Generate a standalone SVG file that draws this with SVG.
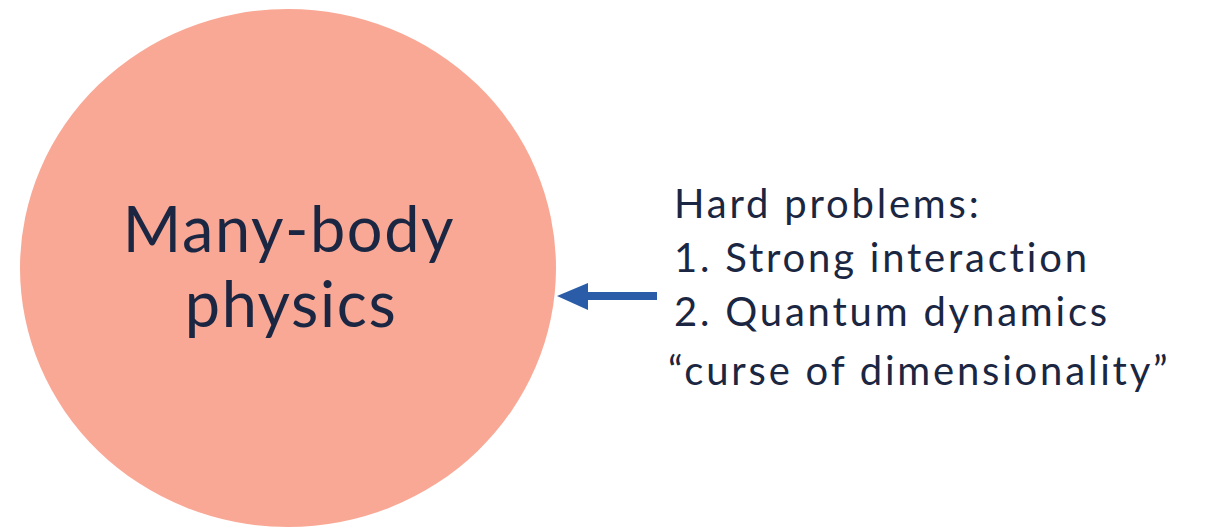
<svg xmlns="http://www.w3.org/2000/svg" width="1205" height="528" viewBox="0 0 1205 528">
<style>
.t{font-family:Lato,"Open Sans","Liberation Sans",sans-serif;fill:#1b2742;font-variant-ligatures:none;}
.big{font-size:63px;letter-spacing:1.6px;}
.side{font-size:40px;letter-spacing:2.8px;}
</style>
<rect width="1205" height="528" fill="#ffffff"/>
<g id="node-manybody">
<ellipse cx="288" cy="268" rx="268" ry="259" fill="#f9a895"/>
<text class="t big" x="289" y="252" text-anchor="middle">Many-body</text>
<text class="t big" x="291" y="327" text-anchor="middle">physics</text>
</g>
<g id="node-hard">
<text class="t side" x="674" y="218">Hard problems:</text>
<text class="t side" x="674" y="272">1. Strong interaction</text>
<text class="t side" x="674" y="326">2. Quantum dynamics</text>
<text class="t side" x="668" y="385">“curse of dimensionality”</text>
</g>
<g id="connectors">
<rect x="585" y="292" width="72" height="8" fill="#2a5ca8"/>
<polygon points="557,296 588,283 588,310" fill="#2a5ca8"/>
</g>
</svg>
